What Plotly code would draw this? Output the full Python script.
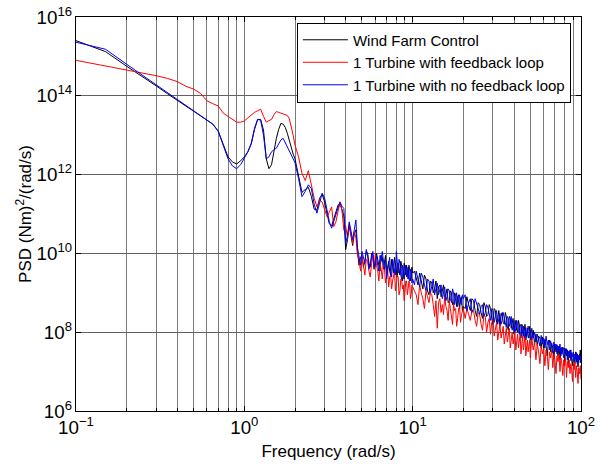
import plotly.graph_objects as go

# Frequency (rad/s)
freq = [0.10, 0.15, 0.20, 0.25, 0.30, 0.35, 0.40, 0.45, 0.50, 0.55,
        0.60, 0.65, 0.70, 0.75, 0.80, 0.85, 0.90, 0.95, 1.00, 1.05,
        1.10, 1.15, 1.20, 1.25, 1.30, 1.35, 1.40, 1.45, 1.50, 1.55,
        1.60, 1.65, 1.70, 1.75, 1.80, 1.85, 1.90, 1.95, 2.00,
        2.1, 2.2, 2.3, 2.4, 2.5, 2.6, 2.7, 2.8, 2.9, 3.0,
        3.1, 3.2, 3.3, 3.4, 3.5, 3.6, 3.7, 3.8, 3.9, 4.0,
        4.1, 4.2, 4.3, 4.4, 4.5, 4.6, 4.7, 4.8, 4.9, 5.0,
        5.1, 5.2, 5.3, 5.4, 5.5, 5.6, 5.7, 5.8, 5.9, 6.0,
        6.1, 6.2, 6.3, 6.4, 6.5, 6.6, 6.7, 6.8, 6.9, 7.0,
        7.1, 7.2, 7.3, 7.4, 7.5, 7.6, 7.7, 7.8, 7.9, 8.0,
        8.1, 8.2, 8.3, 8.4, 8.5, 8.6, 8.7, 8.8, 8.9, 9.0,
        9.1, 9.2, 9.3, 9.4, 9.5, 9.6, 9.7, 9.8, 9.9, 10.0,
        10.25, 10.5, 10.75, 11.0, 11.25, 11.5, 11.75, 12.0, 12.25, 12.5,
        12.75, 13.0, 13.25, 13.5, 13.75, 14.0, 14.25, 14.5, 14.75, 15.0,
        15.25, 15.5, 15.75, 16.0, 16.25, 16.5, 16.75, 17.0, 17.25, 17.5,
        17.75, 18.0, 18.25, 18.5, 18.75, 19.0, 19.25, 19.5, 19.75, 20.0,
        20.5, 21, 21.5, 22, 22.5, 23, 23.5, 24, 24.5, 25,
        25.5, 26, 26.5, 27, 27.5, 28, 28.5, 29, 29.5, 30,
        30.5, 31, 31.5, 32, 32.5, 33, 33.5, 34, 34.5, 35,
        35.5, 36, 36.5, 37, 37.5, 38, 38.5, 39, 39.5, 40,
        40.5, 41, 41.5, 42, 42.5, 43, 43.5, 44, 44.5, 45,
        45.5, 46, 46.5, 47, 47.5, 48, 48.5, 49, 49.5, 50,
        51, 52, 53, 54, 55, 56, 57, 58, 59, 60,
        61, 62, 63, 64, 65, 66, 67, 68, 69, 70,
        71, 72, 73, 74, 75, 76, 77, 78, 79, 80,
        81, 82, 83, 84, 85, 86, 87, 88, 89, 90,
        91, 92, 93, 94, 95, 96, 97, 98, 99, 100]

# PSD, stored as log10 of (Nm)^2/(rad/s)
wind_farm_log10 = [
    15.40, 15.12, 14.75, 14.48, 14.25, 14.05, 13.89, 13.74, 13.61, 13.49,
    13.38, 13.28, 13.10, 12.75, 12.45, 12.32, 12.27, 12.35, 12.45, 12.58,
    12.78, 13.15, 13.40, 13.40, 13.13, 12.40, 12.15, 12.25, 12.62, 12.92,
    13.15, 13.30, 13.28, 13.20, 13.05, 12.85, 12.70, 12.52, 12.40,
    11.95, 11.55, 11.62, 11.68, 11.45, 11.12, 11.10, 11.40, 11.50, 11.30,
    11.00, 10.75, 10.70, 10.90, 11.05, 11.22, 11.28, 11.10, 10.95, 10.10,
    10.35, 10.70, 10.45, 10.20, 10.50, 10.60, 10.05, 9.70, 9.90, 9.95,
    9.65, 9.80, 10.05, 10.00, 9.75, 9.65, 10.00, 9.95, 9.60, 9.70,
    10.00, 9.85, 9.65, 9.55, 9.95, 9.90, 9.60, 9.75, 9.95, 9.50,
    9.65, 9.80, 9.55, 9.45, 9.85, 9.70, 9.50, 9.90, 9.75, 9.55,
    9.40, 9.75, 9.60, 9.45, 9.80, 9.70, 9.30, 9.40, 9.75, 9.65,
    9.45, 9.70, 9.50, 9.35, 9.70, 9.60, 9.30, 9.40, 9.65, 9.50,
    9.55, 9.35, 9.20, 9.50, 9.30, 9.10, 9.45, 9.35, 9.05, 8.95,
    9.30, 9.25, 9.00, 9.10, 9.30, 8.85, 9.15, 9.20, 8.90, 9.05,
    9.20, 8.80, 9.00, 9.10, 8.75, 8.80, 9.05, 9.00, 8.70, 8.70,
    9.00, 8.95, 8.65, 8.90, 8.95, 8.60, 8.85, 8.90, 8.55, 8.65,
    8.60, 8.90, 8.70, 8.55, 8.85, 8.80, 8.55, 8.40, 8.75, 8.70,
    8.50, 8.35, 8.75, 8.65, 8.40, 8.45, 8.70, 8.60, 8.35, 8.20,
    8.60, 8.55, 8.25, 8.35, 8.55, 8.15, 8.40, 8.50, 8.25, 8.20,
    8.50, 8.40, 8.15, 8.05, 8.40, 8.35, 8.10, 8.20, 8.35, 7.95,
    8.15, 8.30, 8.05, 8.00, 8.30, 8.20, 7.95, 7.85, 8.20, 8.15,
    7.90, 8.05, 8.20, 7.80, 8.00, 8.10, 7.90, 7.85, 8.15, 8.05,
    7.80, 8.05, 7.70, 7.95, 7.65, 7.90, 7.85, 7.60, 7.88, 7.55,
    7.82, 7.65, 7.40, 7.75, 7.80, 7.50, 7.72, 7.60, 7.35, 7.70,
    7.50, 7.68, 7.40, 7.65, 7.30, 7.60, 7.45, 7.62, 7.55, 7.25,
    7.58, 7.40, 7.55, 7.20, 7.50, 7.35, 7.55, 7.30, 7.15, 7.48,
    7.40, 7.20, 7.50, 7.25, 7.45, 7.12, 7.40, 7.30, 7.55, 7.25]

feedback_log10 = [
    14.90, 14.76, 14.66, 14.58, 14.51, 14.44, 14.36, 14.24, 14.17, 14.06,
    13.87, 13.80, 13.74, 13.56, 13.48, 13.40, 13.33, 13.33, 13.36, 13.44,
    13.52, 13.58, 13.62, 13.66, 13.48, 13.33, 13.37, 13.40, 13.52, 13.60,
    13.58, 13.56, 13.53, 13.52, 13.50, 13.42, 13.22, 13.00, 12.75,
    12.45, 12.03, 11.85, 12.10, 11.72, 11.40, 11.18, 11.36, 11.30, 11.10,
    10.93, 11.05, 11.18, 10.68, 10.80, 11.06, 11.27, 11.10, 10.59, 10.70,
    10.40, 10.75, 10.50, 10.25, 10.55, 10.40, 9.95, 9.85, 9.55, 9.90,
    9.70, 9.45, 9.85, 9.80, 9.55, 9.40, 9.75, 9.95, 9.60, 10.00,
    9.70, 9.55, 9.30, 9.75, 9.60, 9.35, 9.70, 9.60, 9.25, 9.50,
    9.60, 9.15, 9.40, 9.45, 9.10, 9.30, 9.50, 9.55, 9.05, 9.20,
    9.45, 9.40, 8.95, 9.05, 9.35, 9.35, 9.10, 9.20, 8.80, 9.00,
    9.30, 9.30, 8.95, 9.10, 9.30, 9.25, 8.85, 8.95, 9.20, 9.15,
    9.05, 8.95, 8.70, 9.20, 9.00, 8.85, 8.60, 9.05, 8.90, 8.75,
    9.00, 8.95, 8.70, 8.40, 8.80, 8.10, 8.75, 8.85, 8.50, 8.70,
    8.45, 8.90, 8.65, 8.55, 8.30, 8.80, 8.60, 8.45, 8.20, 8.70,
    8.55, 8.60, 8.15, 8.35, 8.60, 8.65, 8.25, 8.45, 8.55, 8.60,
    8.35, 8.60, 8.45, 8.30, 8.55, 8.55, 8.30, 8.15, 8.50, 8.45,
    8.20, 8.05, 8.45, 8.40, 8.00, 8.25, 8.35, 7.95, 8.25, 8.30,
    7.90, 8.10, 8.25, 7.80, 8.10, 8.20, 7.85, 8.05, 8.15, 7.70,
    8.00, 8.10, 7.75, 7.95, 8.10, 7.60, 7.90, 8.00, 7.70, 7.85,
    8.00, 7.55, 7.85, 7.95, 7.60, 7.80, 7.95, 7.45, 7.75, 7.90,
    7.55, 7.70, 7.90, 7.40, 7.70, 7.80, 7.50, 7.65, 7.80, 7.35,
    7.85, 7.55, 7.75, 7.30, 7.70, 7.50, 7.20, 7.65, 7.45, 7.60,
    7.15, 7.55, 7.40, 7.05, 7.50, 7.35, 7.55, 7.10, 7.45, 7.30,
    6.95, 7.40, 7.25, 7.45, 7.00, 7.35, 7.20, 6.90, 7.30, 7.15,
    7.35, 6.85, 7.25, 7.10, 7.30, 6.95, 7.20, 7.05, 6.75, 7.20,
    7.05, 7.25, 6.85, 7.15, 7.00, 6.70, 7.10, 6.95, 7.15, 6.80]

no_feedback_log10 = [
    15.36, 15.18, 14.80, 14.51, 14.27, 14.08, 13.91, 13.76, 13.62, 13.50,
    13.39, 13.28, 13.10, 12.72, 12.40, 12.22, 12.15, 12.25, 12.42, 12.58,
    12.80, 13.18, 13.40, 13.38, 13.00, 12.40, 12.45, 12.58, 12.63, 12.67,
    12.78, 12.88, 12.92, 12.82, 12.71, 12.60, 12.50, 12.40, 12.30,
    11.90, 11.44, 11.57, 11.74, 11.65, 11.25, 11.02, 11.30, 11.53, 11.40,
    11.05, 10.80, 10.64, 10.80, 10.97, 11.15, 11.31, 11.20, 11.14, 10.26,
    10.45, 10.80, 10.55, 10.35, 10.60, 10.85, 10.15, 9.85, 9.70, 10.05,
    9.90, 9.75, 10.10, 9.95, 9.60, 9.72, 9.90, 10.05, 9.65, 9.80,
    9.95, 9.70, 9.55, 9.95, 9.80, 10.05, 9.75, 9.60, 9.85, 9.35,
    9.55, 9.70, 9.90, 9.55, 9.40, 9.85, 9.70, 9.60, 9.45, 10.05,
    9.75, 9.50, 9.85, 9.75, 9.45, 9.35, 9.70, 9.60, 9.35, 9.55,
    9.70, 9.40, 9.55, 9.65, 9.35, 9.30, 9.60, 9.55, 9.25, 9.35,
    9.20, 9.55, 9.35, 9.15, 9.50, 9.40, 9.20, 9.05, 9.35, 9.30,
    9.00, 9.20, 9.35, 8.95, 9.15, 9.25, 8.95, 9.05, 9.20, 8.85,
    9.05, 9.15, 8.80, 8.90, 9.10, 9.05, 8.85, 8.75, 9.10, 9.00,
    8.70, 8.85, 9.00, 8.65, 8.80, 8.95, 8.75, 8.70, 8.95, 8.85,
    8.95, 8.55, 8.75, 8.85, 8.50, 8.60, 8.85, 8.75, 8.60, 8.45,
    8.65, 8.70, 8.40, 8.50, 8.70, 8.62, 8.45, 8.30, 8.60, 8.55,
    8.25, 8.40, 8.55, 8.20, 8.35, 8.48, 8.20, 8.30, 8.50, 8.40,
    8.25, 8.12, 8.40, 8.35, 8.15, 8.25, 8.40, 8.05, 8.20, 8.30,
    8.00, 8.10, 8.30, 8.22, 8.05, 7.95, 8.20, 8.15, 7.90, 8.05,
    8.15, 7.85, 8.05, 8.12, 7.85, 7.95, 8.15, 8.05, 7.95, 7.80,
    8.10, 7.85, 8.00, 7.75, 7.95, 7.80, 7.65, 7.92, 7.70, 7.85,
    7.60, 7.90, 7.68, 7.80, 7.55, 7.78, 7.62, 7.48, 7.75, 7.58,
    7.70, 7.45, 7.65, 7.52, 7.70, 7.40, 7.62, 7.50, 7.35, 7.60,
    7.45, 7.58, 7.30, 7.52, 7.40, 7.55, 7.28, 7.48, 7.38, 7.50,
    7.25, 7.45, 7.32, 7.48, 7.20, 7.42, 7.30, 7.45, 7.22, 7.38]

series_names = ["Wind Farm Control", "1 Turbine with feedback loop",
                "1 Turbine with no feedback loop"]
series_colors = ["#000000", "#ff0000", "#0000ff"]
series_log10 = [wind_farm_log10, feedback_log10, no_feedback_log10]

fig = go.Figure()
for name, color, vals in zip(series_names, series_colors, series_log10):
    fig.add_trace(go.Scatter(
        x=freq, y=[10 ** v for v in vals], mode="lines", name=name,
        line=dict(color=color, width=1)))

grid_col = "#7a7a7a"
fig.update_layout(
    width=601, height=465,
    margin=dict(l=76, r=20, t=17, b=54),
    paper_bgcolor="white", plot_bgcolor="white",
    font=dict(family="Liberation Sans, Arial, sans-serif", size=15, color="#000000"),
    showlegend=True,
    legend=dict(x=0.980, y=0.986, xanchor="right", yanchor="top",
                bordercolor="#000000", borderwidth=1, bgcolor="white",
                font=dict(size=15), tracegroupgap=0, itemwidth=45),
)
fig.update_xaxes(
    type="log", range=[-1, 2], dtick=1, exponentformat="power",
    labelalias={"1": "10<sup>0</sup>", "10": "10<sup>1</sup>"},
    showline=True, linecolor="#000000", linewidth=1, mirror="allticks",
    ticks="inside", ticklen=5, tickcolor="#000000", automargin=False,
    showgrid=True, gridcolor=grid_col, gridwidth=1, zeroline=False,
    minor=dict(dtick="D1", ticks="inside", ticklen=3, tickcolor="#000000",
               showgrid=True, gridcolor=grid_col, gridwidth=1),
    title=dict(text="Frequency (rad/s)", font=dict(size=17), standoff=8),
    tickfont=dict(size=15),
)
fig.update_yaxes(
    type="log", range=[6, 16], dtick=2, exponentformat="power",
    showline=True, linecolor="#000000", linewidth=1, mirror="allticks",
    ticks="inside", ticklen=5, tickcolor="#000000", automargin=False,
    showgrid=True, gridcolor="#606060", gridwidth=1, zeroline=False,
    title=dict(text="PSD (Nm)<sup>2</sup>/(rad/s)", font=dict(size=17), standoff=0),
    tickfont=dict(size=15),
)
fig.write_html("out.html")
